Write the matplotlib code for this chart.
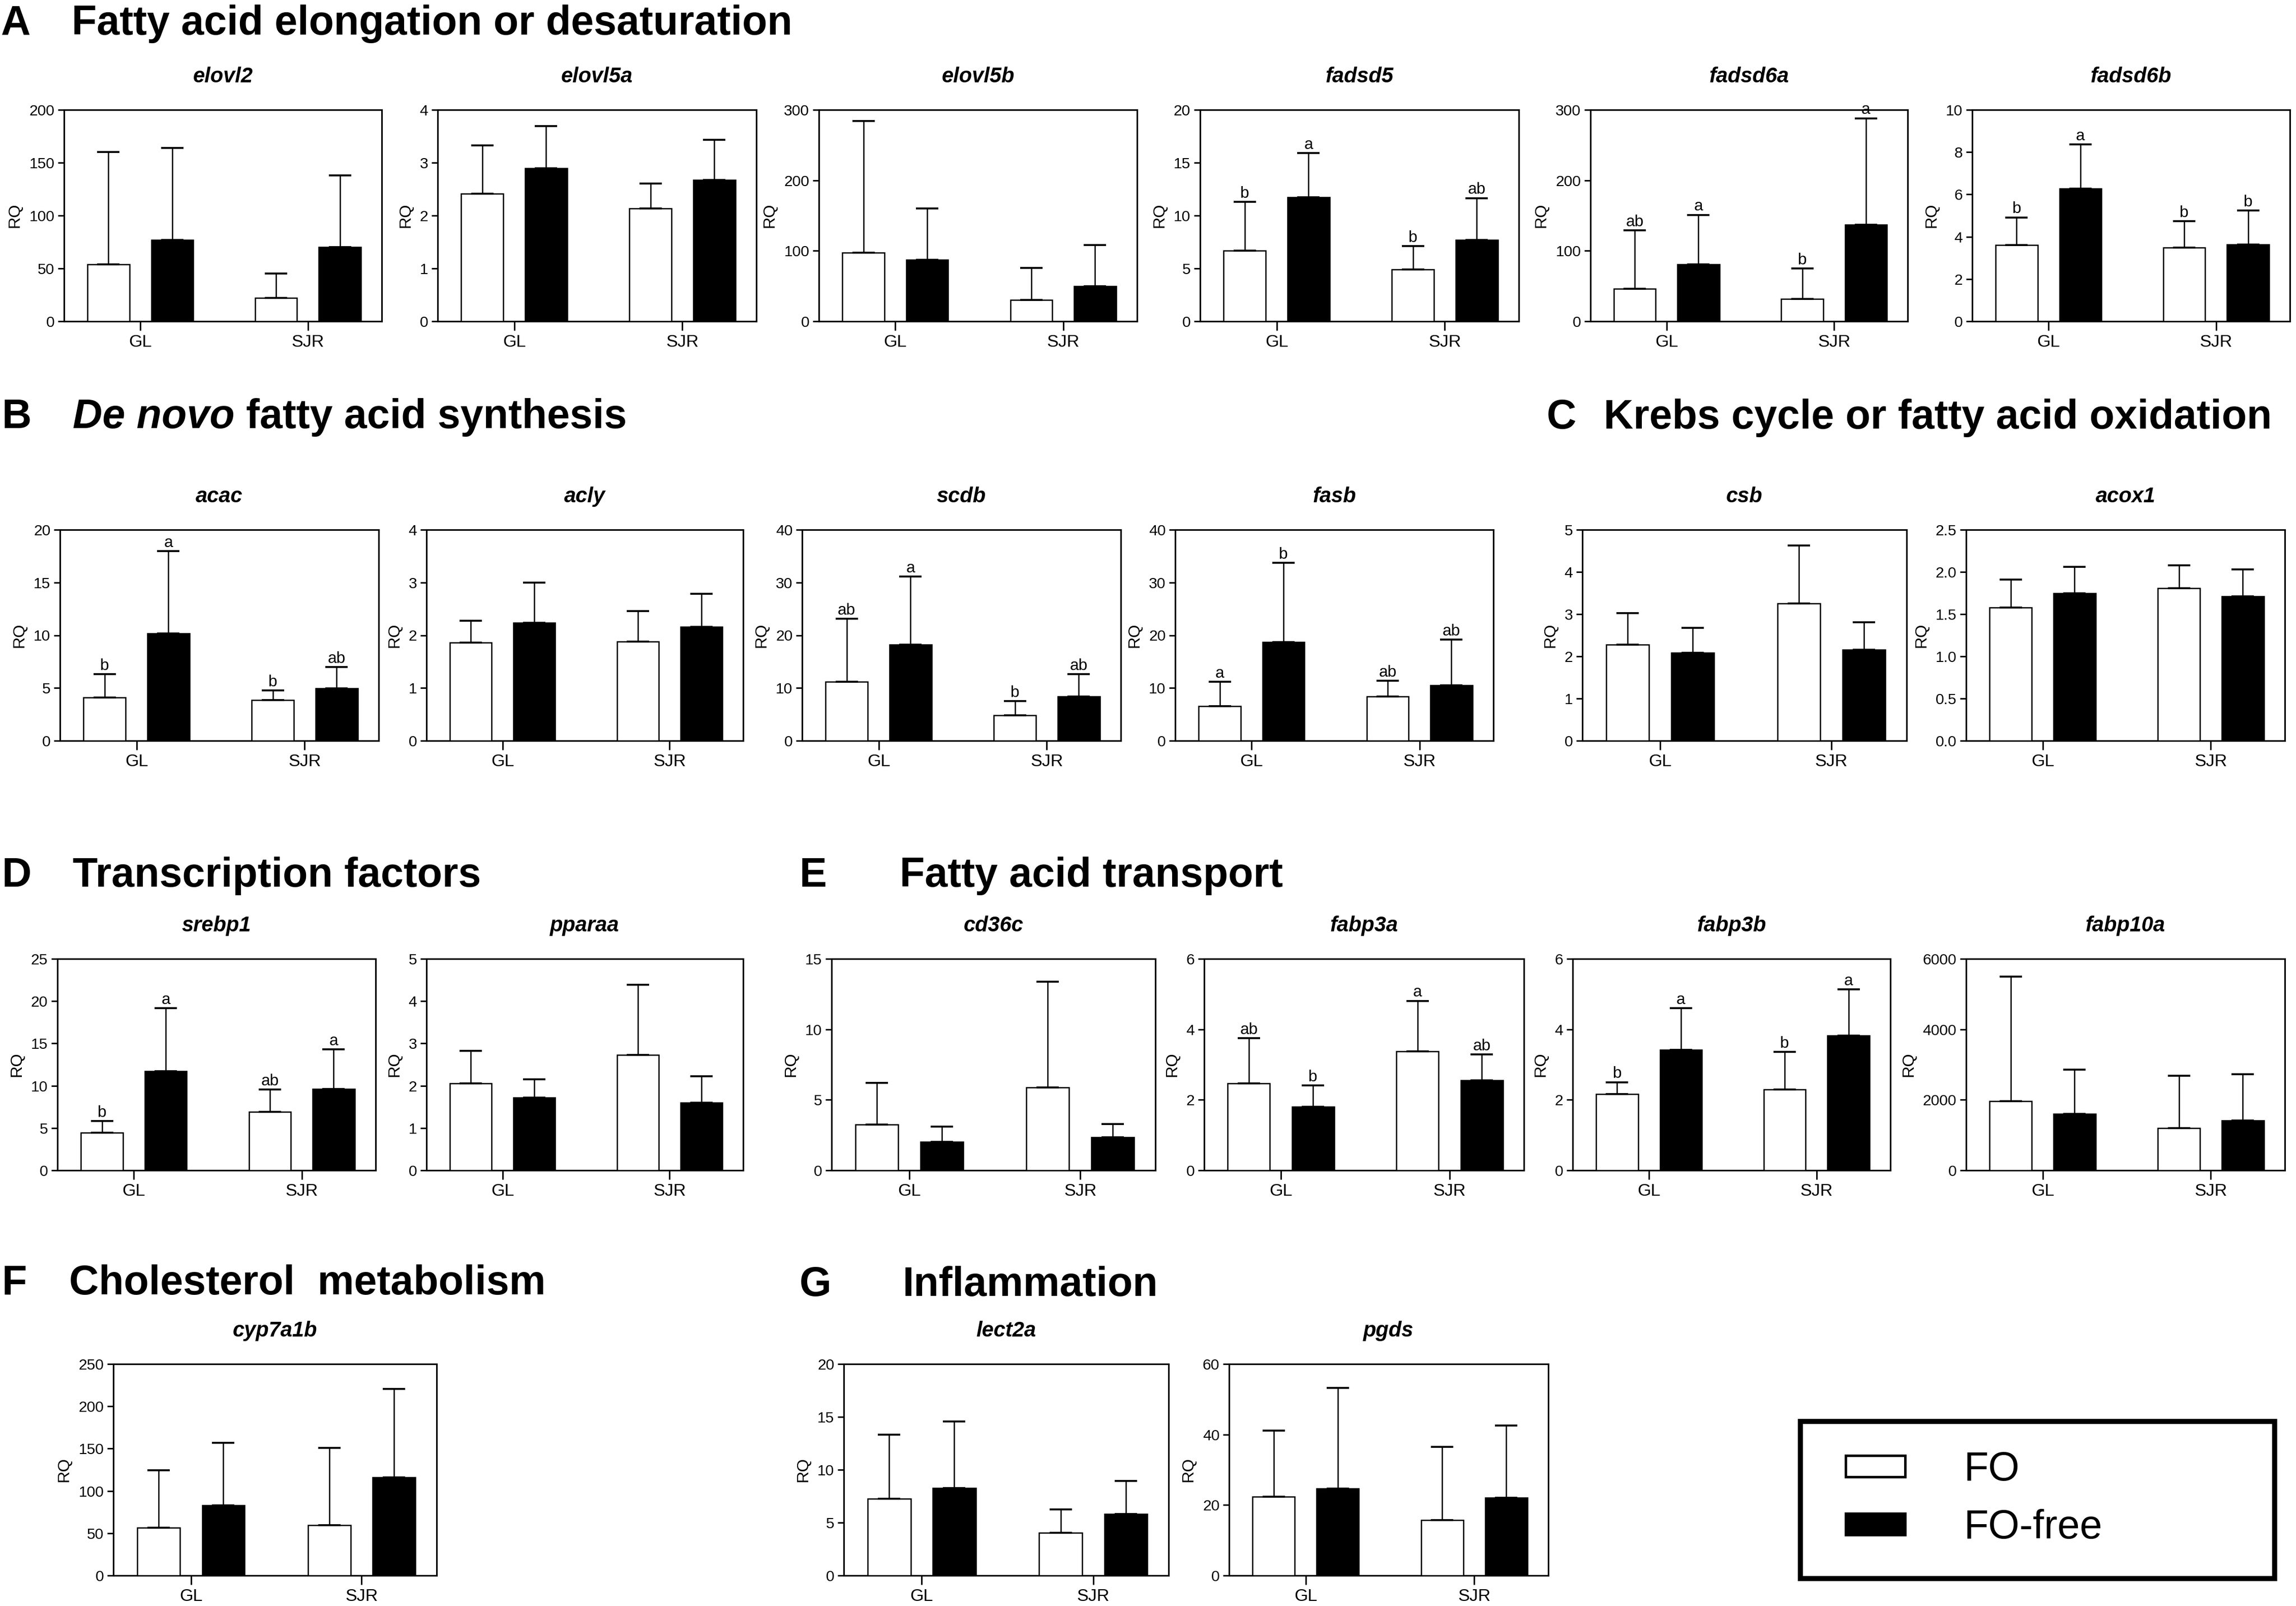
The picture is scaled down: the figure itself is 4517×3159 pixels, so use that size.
import numpy as np
import matplotlib
matplotlib.use('Agg')
import matplotlib.pyplot as plt
from matplotlib.patches import Rectangle

plt.rcParams['font.family'] = ['Liberation Sans', 'DejaVu Sans']

W, H = 4517, 3159
DPI = 300

SITES = ['GL', 'SJR']
DIETS = ['FO', 'FO-free']

GENES = ['elovl2', 'elovl5a', 'elovl5b', 'fadsd5', 'fadsd6a', 'fadsd6b',
         'acac', 'acly', 'scdb', 'fasb', 'csb', 'acox1',
         'srebp1', 'pparaa', 'cd36c', 'fabp3a', 'fabp3b', 'fabp10a',
         'cyp7a1b', 'lect2a', 'pgds']

# mean RQ per site [GL, SJR]
FO_MEAN = [[54, 22], [2.41, 2.13], [97, 30], [6.7, 4.9], [46, 32], [3.6, 3.48],
           [4.11, 3.86], [1.86, 1.88], [11.2, 4.8], [6.6, 8.35], [2.28, 3.25], [1.58, 1.81],
           [4.46, 6.93], [2.05, 2.73], [3.24, 5.88], [2.47, 3.38], [2.16, 2.3], [1967, 1200],
           [56.6, 59.5], [7.26, 4.03], [22.4, 15.7]]
FO_SD = [[106, 23], [0.92, 0.48], [187, 46], [4.6, 2.2], [83, 43], [1.31, 1.25],
         [2.2, 0.91], [0.41, 0.58], [11.9, 2.7], [4.6, 3.0], [0.74, 1.38], [0.33, 0.27],
         [1.37, 2.63], [0.77, 1.66], [2.95, 7.49], [1.28, 1.43], [0.34, 1.06], [3524, 1479],
         [68, 91.1], [6.07, 2.21], [18.7, 20.8]]
FREE_MEAN = [[77, 70], [2.89, 2.67], [87, 50], [11.75, 7.7], [81, 137], [6.28, 3.63],
             [10.19, 4.95], [2.24, 2.16], [18.2, 8.4], [18.7, 10.5], [2.09, 2.16], [1.75, 1.71],
             [11.7, 9.62], [1.72, 1.6], [2.03, 2.35], [1.81, 2.55], [3.42, 3.82], [1595, 1414],
             [83, 116], [8.26, 5.84], [24.7, 22.1]]
FREE_SD = [[87, 68], [0.80, 0.76], [73, 58], [4.15, 3.95], [70, 151], [2.09, 1.61],
           [7.79, 2.04], [0.76, 0.63], [12.9, 4.2], [15.0, 8.7], [0.59, 0.65], [0.31, 0.32],
           [7.47, 4.66], [0.43, 0.62], [1.07, 0.92], [0.6, 0.74], [1.18, 1.31], [1265, 1314],
           [73.8, 104.8], [6.31, 3.12], [28.5, 20.4]]

# significance letters (missing = not shown)
FO_LETTERS = {'fadsd5': ['b', 'b'], 'fadsd6a': ['ab', 'b'], 'fadsd6b': ['b', 'b'],
              'acac': ['b', 'b'], 'scdb': ['ab', 'b'], 'fasb': ['a', 'ab'],
              'srebp1': ['b', 'ab'], 'fabp3a': ['ab', 'a'], 'fabp3b': ['b', 'b']}
FREE_LETTERS = {'fadsd5': ['a', 'ab'], 'fadsd6a': ['a', 'a'], 'fadsd6b': ['a', 'b'],
                'acac': ['a', 'ab'], 'scdb': ['a', 'ab'], 'fasb': ['b', 'ab'],
                'srebp1': ['a', 'a'], 'fabp3a': ['b', 'ab'], 'fabp3b': ['a', 'a']}

Y_MAX = [200, 4, 300, 20, 300, 10, 20, 4, 40, 40, 5, 2.5,
         25, 5, 15, 6, 6, 6000, 250, 20, 60]
Y_STEP = [50, 1, 100, 5, 100, 2, 5, 1, 10, 10, 1, 0.5,
          5, 1, 5, 2, 2, 2000, 50, 5, 20]

SECTIONS = ['A', 'B', 'C', 'D', 'E', 'F', 'G']
SECTION_TITLES = ['Fatty acid elongation or desaturation', 'fatty acid synthesis',
                  'Krebs cycle or fatty acid oxidation', 'Transcription factors',
                  'Fatty acid transport', 'Cholesterol  metabolism', 'Inflammation']

# axes boxes in pixels: left, right, top, bottom
BOXES = {
    'elovl2': (126, 751, 216, 632), 'elovl5a': (861, 1488, 216, 632),
    'elovl5b': (1611, 2237, 216, 632), 'fadsd5': (2361, 2988, 216, 632),
    'fadsd6a': (3129, 3753, 216, 632), 'fadsd6b': (3880, 4505, 216, 632),
    'acac': (118, 745, 1042, 1457), 'acly': (839, 1462, 1042, 1457),
    'scdb': (1578, 2205, 1042, 1457), 'fasb': (2312, 2938, 1042, 1457),
    'csb': (3113, 3751, 1042, 1457), 'acox1': (3868, 4495, 1042, 1457),
    'srebp1': (113, 739, 1886, 2302), 'pparaa': (839, 1462, 1886, 2302),
    'cd36c': (1636, 2273, 1886, 2302), 'fabp3a': (2369, 2998, 1886, 2302),
    'fabp3b': (3094, 3719, 1886, 2302), 'fabp10a': (3868, 4495, 1886, 2302),
    'cyp7a1b': (223, 859, 2683, 3099), 'lect2a': (1660, 2299, 2683, 3099),
    'pgds': (2418, 3046, 2683, 3099),
}
# letter x, title x, baseline y (pixels)
SECTION_POS = [(2, 141, 68), (4, 143, 842), (3043, 3155, 843), (4, 143, 1744),
               (1573, 1770, 1744), (4, 136, 2546), (1573, 1776, 2549)]

fig = plt.figure(figsize=(W / DPI, H / DPI), dpi=DPI)
fig.patch.set_facecolor('white')


def box_axes(l, r, t, b):
    return fig.add_axes([l / W, 1 - b / H, (r - l) / W, (b - t) / H])


x = np.arange(len(SITES))
OFF = 0.19
BW = 0.25

for i, gene in enumerate(GENES):
    ax = box_axes(*BOXES[gene])
    groups = [(-OFF, FO_MEAN[i], FO_SD[i], 'white', FO_LETTERS.get(gene)),
              (OFF, FREE_MEAN[i], FREE_SD[i], 'black', FREE_LETTERS.get(gene))]
    for off, mean, sd, color, letters in groups:
        ax.bar(x + off, mean, BW, color=color, edgecolor='black', linewidth=0.6, zorder=3)
        ax.errorbar(x + off, mean, yerr=[np.zeros(len(sd)), sd], fmt='none', ecolor='black',
                    elinewidth=0.6, capsize=5.3, capthick=0.9, zorder=4)
        if letters:
            for xi, m, s, lab in zip(x + off, mean, sd, letters):
                ax.annotate(lab, (xi, m + s), xytext=(0, 0.3), textcoords='offset points',
                            ha='center', va='bottom', fontsize=7.6)

    ax.set_xlim(-0.455, 1.44)
    ax.set_ylim(0, Y_MAX[i])
    ticks = np.arange(0, Y_MAX[i] + Y_STEP[i] / 2, Y_STEP[i])
    ax.set_yticks(ticks)
    if gene == 'acox1':
        ax.set_yticklabels([f'{v:.1f}' for v in ticks])
    else:
        ax.set_yticklabels([f'{v:g}' for v in ticks])
    ax.set_xticks(x, SITES)
    ax.tick_params(axis='y', length=3, width=0.7, labelsize=7.2, pad=1.5)
    ax.tick_params(axis='x', length=4.3, width=0.7, labelsize=8.2, pad=2)
    for sp in ax.spines.values():
        sp.set_linewidth(0.75)
    ax.set_ylabel('RQ', fontsize=7.8, labelpad=3)
    ax.set_title(gene, fontsize=10, fontweight='bold', fontstyle='italic', pad=13)

# section headers
renderer = fig.canvas.get_renderer()
for (lx, tx, by), letter, title in zip(SECTION_POS, SECTIONS, SECTION_TITLES):
    fig.text(lx / W, 1 - by / H, letter, fontsize=19.4, fontweight='bold', va='baseline')
    if letter == 'B':
        t1 = fig.text(tx / W, 1 - by / H, 'De novo', fontsize=19.4, fontweight='bold',
                      fontstyle='italic', va='baseline')
        bb = t1.get_window_extent(renderer)
        fig.text((bb.x1 + 22) / W, 1 - by / H, title, fontsize=19.4, fontweight='bold',
                 va='baseline')
    else:
        fig.text(tx / W, 1 - by / H, title, fontsize=19.4, fontweight='bold', va='baseline')

# legend box
lg = box_axes(3542, 4475, 2796, 3105)
lg.set_xticks([])
lg.set_yticks([])
for sp in lg.spines.values():
    sp.set_linewidth(2.4)
lg.set_xlim(0, 1)
lg.set_ylim(0, 1)
for (y0, y1, base), color, name in zip([(0.647, 0.783, 0.625), (0.278, 0.414, 0.256)],
                                       ['white', 'black'], DIETS):
    lg.add_patch(Rectangle((0.0954, y0), 0.1254, y1 - y0, facecolor=color,
                           edgecolor='black', linewidth=1.2))
    lg.text(0.345, base, name, fontsize=19, va='baseline', ha='left')

fig.savefig('out.png', dpi=DPI)
